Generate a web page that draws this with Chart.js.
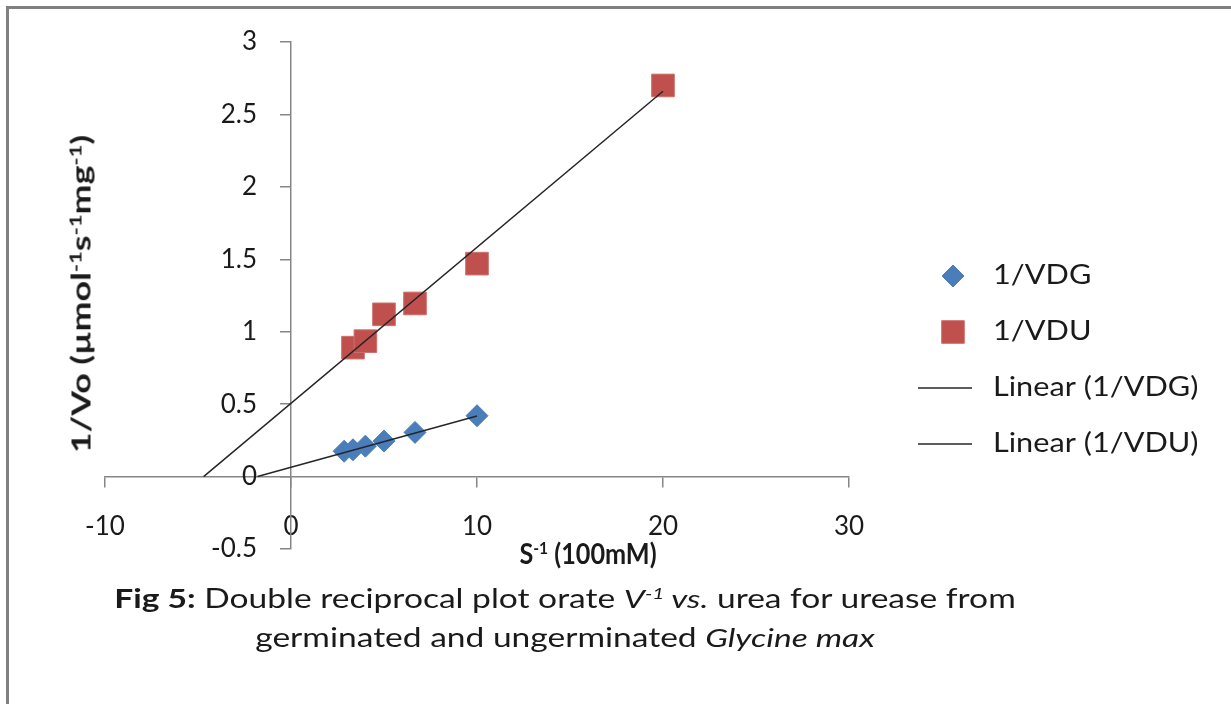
<!DOCTYPE html>
<html>
<head>
<meta charset="utf-8">
<script src="https://cdn.jsdelivr.net/npm/chart.js@4/dist/chart.umd.min.js"></script>
<style>
    html, body { margin: 0; padding: 0; background: #fff; }
    #wrap { position: relative; width: 1231px; height: 704px; overflow: hidden; font-family: Lato, 'Open Sans', sans-serif; color: #1a1a1a; }
    #frame { position: absolute; left: 6px; top: 6px; width: 1222px; height: 740px; border-left: 3px solid #808080; border-top: 3px solid #808080; border-right: 1px solid #c8c8c8; }
    canvas { position: absolute; left: 0; top: 0; }
    .txt { position: absolute; white-space: nowrap; line-height: 1; }
    .txt sup { font-size: 0.62em; vertical-align: 0.55em; line-height: 0; }
    #ytitle { left: 80px; top: 294px; font-weight: bold; font-size: 27px; transform: translate(-50%, -50%) rotate(-90deg) scaleX(1.32); }
    #xtitle { left: 588px; top: 553px; font-weight: bold; font-size: 28px; transform: translate(-50%, -50%) scaleX(0.9); }
    .cap { left: 565px; font-size: 26px; transform: translate(-50%, -50%) scaleX(1.29); }
</style>
</head>
<body>
<div id="wrap">
    <div id="frame"></div>
    <canvas id="chart" width="1231" height="704"></canvas>
    <div class="txt" id="ytitle">1/Vo (µmol<sup>-1</sup>s<sup>-1</sup>mg<sup>-1</sup>)</div>
    <div class="txt" id="xtitle">S<sup>-1</sup> (100mM)</div>
    <div class="txt cap" style="top:598px"><b>Fig 5:</b> Double reciprocal plot orate <i>V<sup>-1</sup> vs.</i> urea for urease from</div>
    <div class="txt cap" style="top:637px">germinated and ungerminated <i>Glycine max</i></div>
</div>
<script>
(function () {
    'use strict';

    // values
    var seriesNames = ['1/VDG', '1/VDU', 'Linear (1/VDG)', 'Linear (1/VDU)'];
    var vdgX = [2.857, 3.333, 4, 5, 6.667, 10];
    var vdgY = [0.175, 0.185, 0.21, 0.245, 0.305, 0.42];
    var vduX = [3.333, 4, 5, 6.667, 10, 20];
    var vduY = [0.89, 0.935, 1.12, 1.195, 1.47, 2.7];
    var trendGX = [-1.8, 10];
    var trendGY = [0, 0.418];
    var trendUX = [-4.7, 20];
    var trendUY = [0, 2.66];
    var xRange = [-10, 30];
    var yRange = [-0.5, 3];
    var xStep = 10;
    var yStep = 0.5;

    var BLUE = '#4a7ebb';
    var RED = '#c0504d';
    var AXIS = '#868686';
    var TEXT = '#1a1a1a';
    var FONT = 'Lato, "Open Sans", sans-serif';

    function toPoints(xs, ys) {
        return xs.map(function (x, i) { return { x: x, y: ys[i] }; });
    }

    // y labels sit left of the x=0 axis, chart.js puts them flush on it
    var yLabelPlugin = {
        id: 'yLabels',
        afterDraw: function (chart) {
            var ctx = chart.ctx;
            var ys = chart.scales.y;
            var x0 = chart.scales.x.getPixelForValue(0);
            ctx.save();
            ctx.fillStyle = TEXT;
            ctx.font = '26px ' + FONT;
            ctx.textAlign = 'right';
            ctx.textBaseline = 'middle';
            ys.ticks.forEach(function (t) {
                ctx.fillText(String(t.value), x0 - 34, ys.getPixelForValue(t.value));
            });
            ctx.restore();
        }
    };

    var legendPlugin = {
        id: 'sideLegend',
        afterDraw: function (chart) {
            var ctx = chart.ctx;
            var top = 276, gap = 56, markX = 953, textX = 993;
            ctx.save();
            chart.data.datasets.forEach(function (ds, i) {
                var y = top + i * gap;
                if (ds.showLine) {
                    ctx.strokeStyle = ds.borderColor;
                    ctx.lineWidth = ds.borderWidth;
                    ctx.beginPath();
                    ctx.moveTo(918, y);
                    ctx.lineTo(972, y);
                    ctx.stroke();
                } else {
                    ctx.fillStyle = ds.backgroundColor;
                    ctx.strokeStyle = ds.borderColor;
                    Chart.helpers.drawPoint(ctx, {
                        pointStyle: ds.pointStyle,
                        radius: ds.pointRadius,
                        rotation: 0,
                        borderWidth: ds.borderWidth
                    }, markX, y);
                }
                ctx.save();
                ctx.translate(textX, y);
                ctx.scale(1.18, 1);
                ctx.fillStyle = TEXT;
                ctx.font = '26px ' + FONT;
                ctx.textBaseline = 'middle';
                ctx.textAlign = 'left';
                ctx.fillText(ds.label, 0, 0);
                ctx.restore();
            });
            ctx.restore();
        }
    };

    var tickFont = { family: FONT, size: 26 };

    new Chart(document.getElementById('chart'), {
        type: 'scatter',
        data: {
            datasets: [{
                label: seriesNames[0],
                data: toPoints(vdgX, vdgY),
                pointStyle: 'rectRot',
                pointRadius: 11,
                backgroundColor: BLUE,
                borderColor: BLUE,
                borderWidth: 1,
                order: 1
            }, {
                label: seriesNames[1],
                data: toPoints(vduX, vduY),
                pointStyle: 'rect',
                pointRadius: 16,
                backgroundColor: RED,
                borderColor: '#cd6f6c',
                borderWidth: 1,
                order: 1
            }, {
                label: seriesNames[2],
                data: toPoints(trendGX, trendGY),
                showLine: true,
                pointRadius: 0,
                borderColor: '#262626',
                borderWidth: 1.5,
                order: 0
            }, {
                label: seriesNames[3],
                data: toPoints(trendUX, trendUY),
                showLine: true,
                pointRadius: 0,
                borderColor: '#262626',
                borderWidth: 1.5,
                order: 0
            }]
        },
        options: {
            responsive: false,
            animation: false,
            layout: { padding: { left: 105, right: 382, top: 42, bottom: 155 } },
            scales: {
                x: {
                    type: 'linear',
                    min: xRange[0],
                    max: xRange[1],
                    position: { y: 0 },
                    ticks: { stepSize: xStep, padding: 24, color: TEXT, font: tickFont },
                    grid: { drawOnChartArea: false, drawTicks: true, tickLength: 10, color: AXIS, lineWidth: 1.5 },
                    border: { color: AXIS, width: 1.5 }
                },
                y: {
                    type: 'linear',
                    min: yRange[0],
                    max: yRange[1],
                    position: { x: 0 },
                    ticks: { stepSize: yStep, display: false },
                    grid: { drawOnChartArea: false, drawTicks: true, tickLength: 10, color: AXIS, lineWidth: 1.5 },
                    border: { color: AXIS, width: 1.5 }
                }
            },
            plugins: {
                legend: { display: false },
                tooltip: { enabled: false }
            }
        },
        plugins: [yLabelPlugin, legendPlugin]
    });
})();
</script>
</body>
</html>
